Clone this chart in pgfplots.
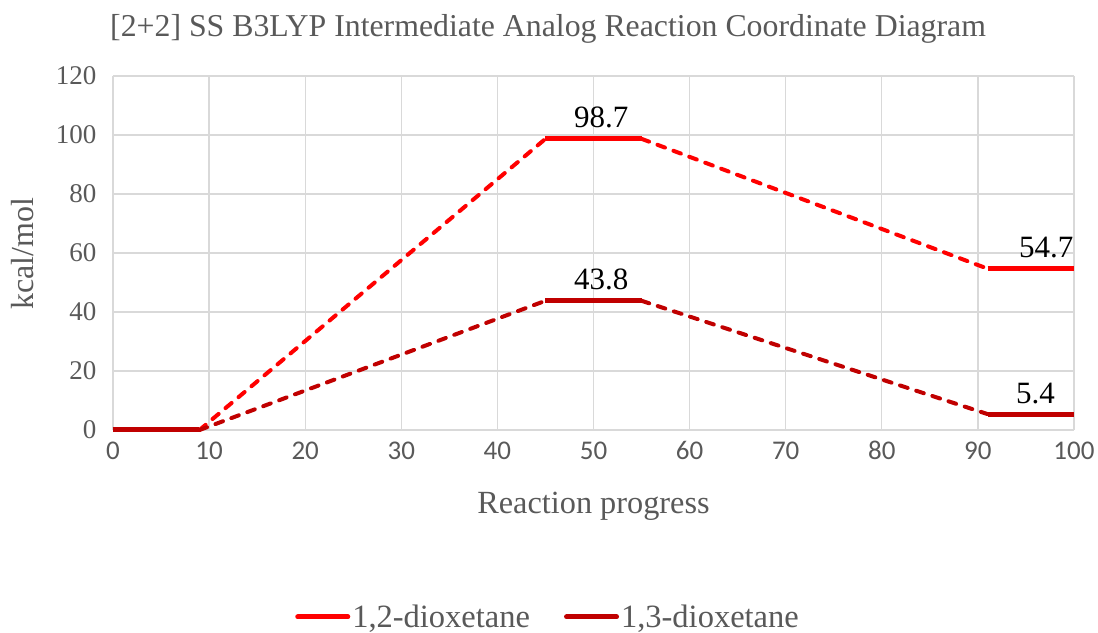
\documentclass[border=0pt]{standalone}
\usepackage{fontspec}
\setmainfont{Liberation Serif}
\newfontfamily\calibri{Carlito}
\usepackage{pgfplots}
\pgfplotsset{compat=1.18}
\definecolor{txtgray}{HTML}{595959}
\definecolor{gridgray}{HTML}{D9D9D9}
\definecolor{redA}{HTML}{FF0000}
\definecolor{redB}{HTML}{C00000}
\begin{document}
\begin{tikzpicture}
\begin{axis}[
  at={(0,0)}, anchor=south west,
  scale only axis, width=961pt, height=354pt,
  xmin=0, xmax=100, ymin=0, ymax=120,
  xtick distance=10, ytick distance=20,
  axis line style={draw=none},
  major tick length=0pt,
  xmajorgrids, ymajorgrids,
  grid style={color=gridgray, line width=1.3pt},
  /pgf/number format/assume math mode=true,
  xticklabel style={font=\calibri\fontsize{27}{27}\selectfont, text=txtgray, yshift=-8pt},
  yticklabel style={font=\fontsize{27}{27}\selectfont, text=txtgray, xshift=-13pt},
  legend style={at={(0.4527,-0.528)}, anchor=center, legend columns=2, draw=none,
    font=\fontsize{32.5}{32.5}\selectfont, text=txtgray,
    /tikz/every even column/.append style={column sep=32pt}},
  legend image code/.code={\draw[#1, line cap=round] (0pt,0pt) -- (50pt,0pt);},
  clip=false,
]
% legend-bearing solid segments
\addplot[redA, line width=5pt, no marks] coordinates {(0,0) (9,0)};
\addlegendentry{1,2-dioxetane}
\addplot[redB, line width=5pt, no marks] coordinates {(0,0) (9,0)};
\addlegendentry{1,3-dioxetane}
% 1,2-dioxetane dashed
\addplot[redA, line width=4pt, dash pattern=on 8pt off 9pt, line cap=round, no marks, forget plot] coordinates {(9,0) (45,98.7)};
\addplot[redA, line width=4pt, dash pattern=on 8pt off 9pt, line cap=round, no marks, forget plot] coordinates {(55,98.7) (91,54.7)};
% 1,3-dioxetane dashed
\addplot[redB, line width=4pt, dash pattern=on 8pt off 9pt, line cap=round, no marks, forget plot] coordinates {(9,0) (45,43.8)};
\addplot[redB, line width=4pt, dash pattern=on 8pt off 9pt, line cap=round, no marks, forget plot] coordinates {(55,43.8) (91,5.4)};
% solid plateaus
\addplot[redA, line width=5pt, no marks, forget plot] coordinates {(45,98.7) (55,98.7)};
\addplot[redA, line width=5pt, no marks, forget plot] coordinates {(91,54.7) (100,54.7)};
\addplot[redB, line width=5pt, no marks, forget plot] coordinates {(45,43.8) (55,43.8)};
\addplot[redB, line width=5pt, no marks, forget plot] coordinates {(91,5.4) (100,5.4)};
\addplot[redB, line width=5pt, no marks, forget plot] coordinates {(0,0) (9,0)};
% data labels
\node[anchor=base, font=\fontsize{31}{31}\selectfont] at (axis cs:50.8,102.4) {98.7};
\node[anchor=base, font=\fontsize{31}{31}\selectfont] at (axis cs:50.8,47.5) {43.8};
\node[anchor=base, font=\fontsize{31}{31}\selectfont] at (axis cs:97.1,58.4) {54.7};
\node[anchor=base, font=\fontsize{31}{31}\selectfont] at (axis cs:96,9.1) {5.4};
\end{axis}
\node[anchor=base west, font=\fontsize{31.8}{31.8}\selectfont, text=txtgray, inner sep=0pt] at (-3pt,393pt) {[2+2] SS B3LYP Intermediate Analog Reaction Coordinate Diagram};
\node[anchor=base, font=\fontsize{32.3}{32.3}\selectfont, text=txtgray, inner sep=0pt] at (480.5pt,-84pt) {Reaction progress};
\node[anchor=base, rotate=90, font=\fontsize{32}{32}\selectfont, text=txtgray, inner sep=0pt] at (-79pt,176pt) {kcal/mol};
\path[use as bounding box] (-113pt,-202pt) rectangle (985pt,430pt);
\end{tikzpicture}
\end{document}
